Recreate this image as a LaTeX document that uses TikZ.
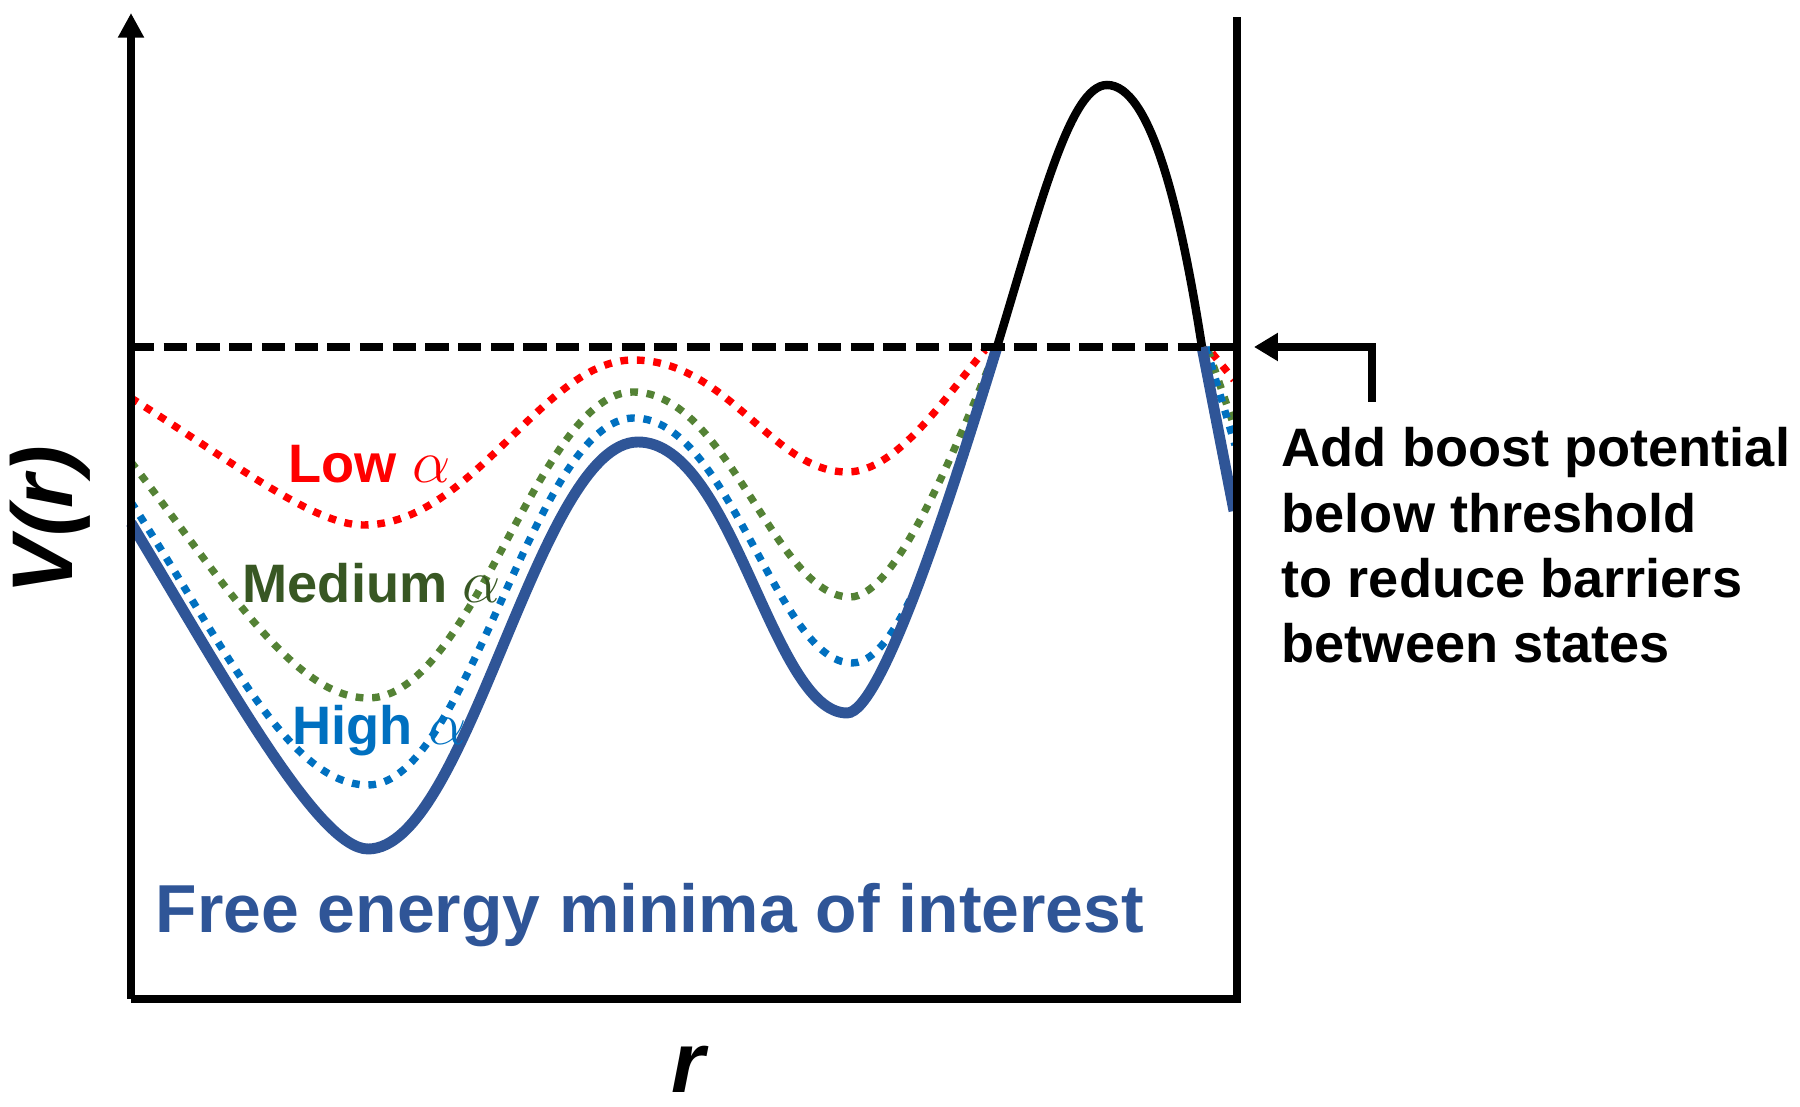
\documentclass[tikz,border=0pt]{standalone}
\usepackage{fontspec}
\setmainfont{Liberation Sans}
\usetikzlibrary{arrows.meta}
\definecolor{lowred}{HTML}{FF0000}
\definecolor{medgreen}{HTML}{548235}
\definecolor{medtext}{HTML}{385723}
\definecolor{highblue}{HTML}{0070C0}
\definecolor{navyblue}{HTML}{2F5597}
\newcommand\myalpha{{\fontsize{18}{18}\selectfont$\alpha$}}
\begin{document}
\begin{tikzpicture}[x=0.01cm,y=0.01cm,
  axisline/.style={line width=2.4pt},
  dotcurve/.style={line width=2.1pt, dash pattern=on 2.2pt off 2.5pt},
  basecurve/.style={line width=3.1pt, navyblue},
  lbl/.style={font=\fontsize{15.4}{18.6}\selectfont\bfseries, inner sep=0pt, anchor=base west},
]
\useasboundingbox (0,0) rectangle (1800,1106);

% coordinates
\coordinate (origin) at (131,107);
\coordinate (ytop) at (131,1093);
\coordinate (xend) at (1237,107);
\coordinate (rtop) at (1237,1089);
\coordinate (thrL) at (131,759);
\coordinate (thrR) at (1237,759);
\coordinate (arrS) at (1372,704);
\coordinate (arrC) at (1372,759);
\coordinate (arrT) at (1254,759);

% dotted curves
\draw[dotcurve, lowred] (131,708) .. controls (233,644) and (313,581) .. (363,581)
  .. controls (473,581) and (543,746) .. (633,746)
  .. controls (728,746) and (772,634) .. (847,634)
  .. controls (897,634) and (946,710) .. (985,756);
\draw[dotcurve, lowred] (1212,753) -- (1234,726);

\draw[dotcurve, medgreen] (131,644) .. controls (223,526) and (293,408) .. (368,408)
  .. controls (473,408) and (538,714) .. (633,714)
  .. controls (728,714) and (775,509) .. (850,509)
  .. controls (895,509) and (952,648) .. (997,759);
\draw[dotcurve, medgreen] (1208,756) -- (1232,686);

\draw[dotcurve, highblue] (131,604) .. controls (224,461) and (288,321) .. (368,321)
  .. controls (468,321) and (534,688) .. (634,688)
  .. controls (729,688) and (777,443) .. (852,443)
  .. controls (907,443) and (957,632) .. (997,756);
\draw[dotcurve, highblue] (1206,759) -- (1235,661);

% original potential
\draw[basecurve] (131,583) .. controls (224,429) and (318,257) .. (368,257)
  .. controls (468,257) and (538,664) .. (638,664)
  .. controls (733,664) and (772,393) .. (847,393)
  .. controls (882,393) and (953,616) .. (997,759);
\draw[basecurve] (1202,759) -- (1234,595);

% barrier above threshold
\draw[line width=2.4pt, black] (997,759) .. controls (1040,900) and (1070,1021) .. (1107,1021) .. controls (1150,1021) and (1180,900) .. (1202,759);

% threshold
\draw[line width=2.2pt, dash pattern=on 6.6pt off 2.7pt] (thrL) -- (thrR);

% axes
\draw[axisline, -{Triangle[width=7pt,length=7pt]}] (origin) -- (ytop);
\draw[axisline, line join=miter] (origin) -- (xend) -- (rtop);

% boost arrow
\draw[axisline, line join=miter, -{Triangle[width=7.6pt,length=6.8pt]}] (arrS) -- (arrC) -- (arrT);

% labels
\node[lbl, lowred] (low) at (288,623) {Low \myalpha};
\node[lbl, medtext] (med) at (242,503) {Medium \myalpha};
\node[lbl, highblue] (high) at (292,361) {High \myalpha};
\node[lbl, align=left] (boost) at (1281,443) {Add boost potential\\below threshold\\to reduce barriers\\between states};
\node[font=\fontsize{19.3}{22}\selectfont\bfseries, text=navyblue, inner sep=0pt, anchor=base west] (minima) at (155,173) {Free energy minima of interest};
\node[font=\fontsize{24.5}{28}\selectfont\bfseries\itshape, inner sep=0pt, rotate=90] (ylab) at (50,586) {V(r)};
\node[font=\fontsize{24.5}{28}\selectfont\bfseries\itshape, inner sep=0pt, anchor=base] (xlab) at (688,14) {r};
\end{tikzpicture}
\end{document}
